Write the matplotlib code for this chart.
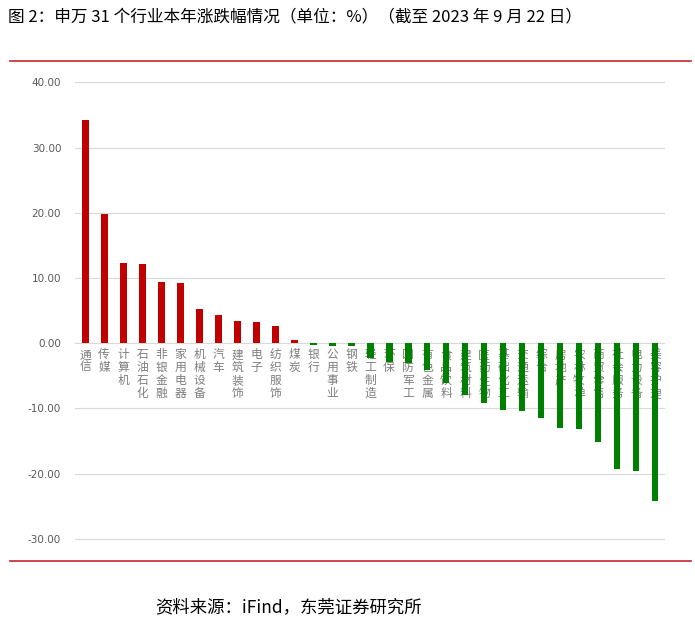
import numpy as np
import matplotlib.pyplot as plt
from matplotlib.lines import Line2D

plt.rcParams['font.family'] = ['Noto Sans CJK SC', 'DejaVu Sans']

# 申万一级行业 本年涨跌幅(%)
industries = ['通信', '传媒', '计算机', '石油石化', '非银金融', '家用电器', '机械设备',
              '汽车', '建筑装饰', '电子', '纺织服饰', '煤炭', '银行', '公用事业', '钢铁',
              '轻工制造', '环保', '国防军工', '有色金属', '食品饮料', '建筑材料', '医药生物',
              '基础化工', '交通运输', '综合', '房地产', '农林牧渔', '商贸零售', '社会服务',
              '电力设备', '美容护理']
change = [34.3, 19.8, 12.3, 12.1, 9.35, 9.2, 5.2, 4.3, 3.4, 3.2, 2.6, 0.5, -0.3, -0.4, -0.5,
          -2.3, -2.9, -3.1, -4.1, -6.1, -8.0, -9.2, -10.3, -10.4, -11.5, -13.0, -13.1,
          -15.2, -19.3, -19.6, -24.2]
yticks = [-30, -20, -10, 0, 10, 20, 30, 40]

fig = plt.figure(figsize=(6.95, 6.25), dpi=100)
ax = fig.add_axes([0.108, 0.117, 0.849, 0.772])

x = np.arange(len(industries))
colors = ['#C00000' if v >= 0 else '#008000' for v in change]
ax.bar(x, change, width=0.36, color=colors, zorder=3)

ax.set_ylim(-32, 42)
ax.set_xlim(-0.53, len(industries) - 0.47)
ax.set_yticks(yticks)
ax.set_yticklabels(['%.2f' % t for t in yticks], fontsize=7.5, color='#595959',
                   family='DejaVu Sans')
ax.tick_params(axis='y', length=0, pad=10)
ax.set_xticks([])
ax.yaxis.grid(True, color='#D9D9D9', linewidth=0.8, zorder=0)
for s in ax.spines.values():
    s.set_visible(False)

# 竖排类目标签
for i, name in enumerate(industries):
    ax.text(i, -0.8, '\n'.join(name), ha='center', va='top', fontsize=8.5,
            color='#7F7F7F', linespacing=0.98, zorder=2)

# 标题、分隔线与资料来源
fig.text(0.012, 0.973, '图 2：申万 31 个行业本年涨跌幅情况（单位：%）（截至 2023 年 9 月 22 日）',
         fontsize=12, va='center', ha='left')
fig.add_artist(Line2D([0.014, 0.994], [0.902, 0.902], color='#C0272D', lw=1.2))
fig.add_artist(Line2D([0.014, 0.994], [0.102, 0.102], color='#C0272D', lw=1.2))
fig.text(0.223, 0.028, '资料来源：iFind，东莞证券研究所', fontsize=12.5, va='center', ha='left')

fig.savefig('out.png', dpi=100, facecolor='white')
